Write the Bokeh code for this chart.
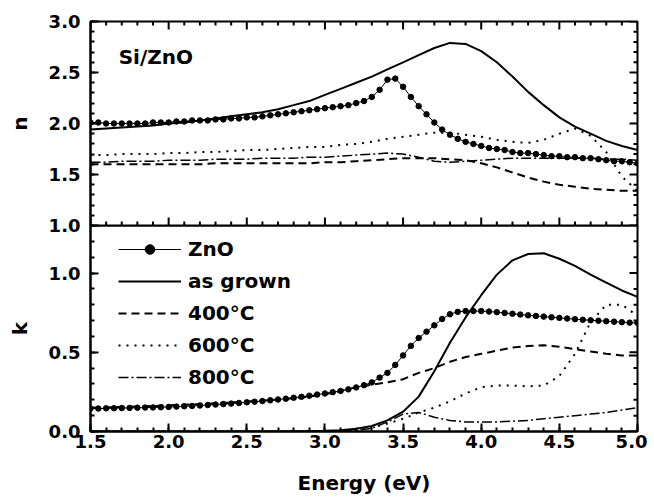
import math
from bokeh.plotting import figure
from bokeh.models import (Range1d, SingleIntervalTicker, PrintfTickFormatter,
                          Legend, LegendItem, Label)
from bokeh.layouts import column
from bokeh.embed import file_html
from bokeh.resources import INLINE

# ---------------- data ----------------
energy = [1.5, 1.6, 1.7, 1.8, 1.9, 2.0, 2.1, 2.2, 2.3, 2.4, 2.5, 2.6, 2.7, 2.8, 2.9,
          3.0, 3.1, 3.2, 3.3, 3.4, 3.5, 3.6, 3.7, 3.8, 3.9, 4.0, 4.1, 4.2, 4.3, 4.4,
          4.5, 4.6, 4.7, 4.8, 4.9, 5.0]

energy_zno = [1.50, 1.55, 1.60, 1.65, 1.70, 1.75, 1.80, 1.85, 1.90, 1.95,
              2.00, 2.05, 2.10, 2.15, 2.20, 2.25, 2.30, 2.35, 2.40, 2.45,
              2.50, 2.55, 2.60, 2.65, 2.70, 2.75, 2.80, 2.85, 2.90, 2.95,
              3.00, 3.05, 3.10, 3.15, 3.20, 3.25, 3.30, 3.35, 3.40, 3.45,
              3.50, 3.55, 3.60, 3.65, 3.70, 3.75, 3.80, 3.85, 3.90, 3.95,
              4.00, 4.05, 4.10, 4.15, 4.20, 4.25, 4.30, 4.35, 4.40, 4.45,
              4.50, 4.55, 4.60, 4.65, 4.70, 4.75, 4.80, 4.85, 4.90, 4.95, 5.00]

n_zno = [2.01, 2.01, 2.00, 2.00, 2.00, 2.00, 2.00, 2.00, 2.01, 2.01,
         2.01, 2.02, 2.02, 2.03, 2.03, 2.03, 2.04, 2.04, 2.05, 2.05,
         2.06, 2.06, 2.07, 2.08, 2.09, 2.10, 2.11, 2.12, 2.13, 2.14,
         2.15, 2.16, 2.17, 2.18, 2.20, 2.22, 2.26, 2.33, 2.43, 2.44,
         2.36, 2.26, 2.17, 2.09, 2.01, 1.94, 1.89, 1.85, 1.82, 1.80,
         1.78, 1.76, 1.75, 1.74, 1.72, 1.71, 1.71, 1.70, 1.69, 1.68,
         1.68, 1.67, 1.67, 1.66, 1.66, 1.65, 1.64, 1.63, 1.63, 1.62, 1.61]

k_zno = [0.145, 0.145, 0.146, 0.147, 0.148, 0.149, 0.150, 0.151, 0.152, 0.153,
         0.155, 0.157, 0.159, 0.161, 0.164, 0.167, 0.170, 0.173, 0.176, 0.180,
         0.184, 0.188, 0.192, 0.197, 0.202, 0.207, 0.213, 0.219, 0.226, 0.233,
         0.240, 0.248, 0.256, 0.266, 0.278, 0.292, 0.31, 0.34, 0.37, 0.42,
         0.48, 0.54, 0.59, 0.63, 0.67, 0.71, 0.74, 0.755, 0.76, 0.76,
         0.76, 0.757, 0.753, 0.748, 0.743, 0.738, 0.733, 0.729, 0.725, 0.721,
         0.717, 0.713, 0.709, 0.705, 0.702, 0.699, 0.696, 0.693, 0.690, 0.687, 0.685]

n_grown = [1.94, 1.95, 1.96, 1.97, 1.98, 2.00, 2.01, 2.03, 2.05, 2.07, 2.09, 2.11, 2.14, 2.18, 2.22,
           2.28, 2.34, 2.40, 2.46, 2.53, 2.60, 2.67, 2.74, 2.79, 2.78, 2.71, 2.60, 2.46, 2.31, 2.18,
           2.06, 1.97, 1.90, 1.83, 1.78, 1.74]
n_400 = [1.60, 1.60, 1.60, 1.60, 1.60, 1.60, 1.60, 1.60, 1.61, 1.61, 1.61, 1.61, 1.61, 1.61, 1.61,
         1.62, 1.62, 1.63, 1.64, 1.65, 1.66, 1.66, 1.66, 1.65, 1.64, 1.61, 1.57, 1.52, 1.47, 1.43,
         1.40, 1.38, 1.36, 1.35, 1.34, 1.34]
n_600 = [1.69, 1.69, 1.70, 1.70, 1.70, 1.71, 1.71, 1.72, 1.72, 1.73, 1.74, 1.74, 1.75, 1.76, 1.77,
         1.77, 1.79, 1.80, 1.82, 1.85, 1.87, 1.89, 1.91, 1.91, 1.89, 1.87, 1.84, 1.82, 1.81, 1.84,
         1.90, 1.95, 1.88, 1.72, 1.48, 1.34]
n_800 = [1.62, 1.62, 1.63, 1.63, 1.63, 1.64, 1.64, 1.64, 1.65, 1.65, 1.65, 1.66, 1.66, 1.66, 1.67,
         1.67, 1.68, 1.69, 1.70, 1.71, 1.70, 1.67, 1.63, 1.62, 1.63, 1.64, 1.65, 1.66, 1.66, 1.66,
         1.66, 1.66, 1.66, 1.65, 1.65, 1.64]

k_grown = [0.0, 0.0, 0.0, 0.0, 0.0, 0.0, 0.0, 0.0, 0.0, 0.0, 0.0, 0.0, 0.0, 0.001, 0.002,
           0.004, 0.008, 0.017, 0.035, 0.07, 0.125, 0.22, 0.38, 0.56, 0.72, 0.86, 0.99, 1.08, 1.12, 1.125,
           1.09, 1.045, 0.99, 0.94, 0.89, 0.85]
k_400 = [0.150, 0.152, 0.155, 0.158, 0.161, 0.165, 0.169, 0.173, 0.178, 0.183, 0.189, 0.195, 0.202, 0.210, 0.220,
         0.235, 0.255, 0.28, 0.295, 0.31, 0.33, 0.37, 0.40, 0.44, 0.47, 0.49, 0.51, 0.53, 0.54, 0.545,
         0.535, 0.52, 0.505, 0.49, 0.48, 0.48]
k_600 = [0.0, 0.0, 0.0, 0.0, 0.0, 0.0, 0.0, 0.0, 0.0, 0.0, 0.0, 0.0, 0.0, 0.0, 0.0,
         0.0, 0.003, 0.01, 0.025, 0.05, 0.08, 0.12, 0.15, 0.19, 0.24, 0.28, 0.29, 0.29, 0.285, 0.29,
         0.35, 0.49, 0.69, 0.80, 0.80, 0.73]
k_800 = [0.0, 0.0, 0.0, 0.0, 0.0, 0.0, 0.0, 0.0, 0.0, 0.0, 0.0, 0.0, 0.0, 0.0, 0.0,
         0.0, 0.0, 0.005, 0.02, 0.06, 0.11, 0.12, 0.09, 0.07, 0.06, 0.06, 0.06, 0.065, 0.07, 0.08,
         0.09, 0.10, 0.11, 0.12, 0.135, 0.15]

legend_labels = ["ZnO", "as grown", "400\u00b0C", "600\u00b0C", "800\u00b0C"]

# tick positions for the frame edges without labels
x_major = [1.5, 2.0, 2.5, 3.0, 3.5, 4.0, 4.5, 5.0]
x_minor = [1.6, 1.7, 1.8, 1.9, 2.1, 2.2, 2.3, 2.4, 2.6, 2.7, 2.8, 2.9,
           3.1, 3.2, 3.3, 3.4, 3.6, 3.7, 3.8, 3.9, 4.1, 4.2, 4.3, 4.4,
           4.6, 4.7, 4.8, 4.9]
n_major = [1.0, 1.5, 2.0, 2.5, 3.0]
n_minor = [1.1, 1.2, 1.3, 1.4, 1.6, 1.7, 1.8, 1.9, 2.1, 2.2, 2.3, 2.4, 2.6, 2.7, 2.8, 2.9]
k_major = [0.0, 0.5, 1.0]
k_minor = [0.1, 0.2, 0.3, 0.4, 0.6, 0.7, 0.8, 0.9, 1.1, 1.2]

# ---------------- styling ----------------
FONT = "DejaVu Sans"
DASH_400 = "8 5"
DASH_600 = "2 6"
DASH_800 = "10 3 2 3"
MAJ = 8
MIN = 4


def style_axis(ax, label_text, standoff_label, standoff_axis):
    ax.ticker = SingleIntervalTicker(interval=0.5, num_minor_ticks=5)
    ax.formatter = PrintfTickFormatter(format="%.1f")
    ax.axis_line_width = 2
    ax.axis_line_color = "black"
    ax.major_tick_in = MAJ
    ax.major_tick_out = 0
    ax.minor_tick_in = MIN
    ax.minor_tick_out = 0
    ax.major_tick_line_width = 2
    ax.minor_tick_line_width = 2
    ax.major_tick_line_color = "black"
    ax.minor_tick_line_color = "black"
    ax.major_label_text_font = FONT
    ax.major_label_text_font_style = "bold"
    ax.major_label_text_font_size = "18px"
    ax.major_label_text_color = "black"
    ax.major_label_standoff = standoff_label
    ax.axis_label = label_text
    ax.axis_label_text_font = FONT
    ax.axis_label_text_font_style = "bold"
    ax.axis_label_text_font_size = "20px"
    ax.axis_label_text_color = "black"
    ax.axis_label_standoff = standoff_axis


def ticks_x(p, xs, y, length, down):
    # short rays (screen-length) starting on a horizontal frame edge, pointing into the frame
    p.ray(x=xs, y=[y] * len(xs), length=length, length_units="screen",
          angle=(-math.pi / 2 if down else math.pi / 2), line_color="black", line_width=2)


def ticks_y(p, ys, x, length):
    # short rays starting on the right frame edge, pointing left into the frame
    p.ray(x=[x] * len(ys), y=ys, length=length, length_units="screen",
          angle=math.pi, line_color="black", line_width=2)


# ---------------- top panel: n ----------------
p1 = figure(width=647, height=237, x_range=Range1d(1.5, 5.0), y_range=Range1d(1.0, 3.0),
            output_backend="svg", toolbar_location=None, x_axis_location=None,
            min_border_left=90, min_border_right=10, min_border_top=21, min_border_bottom=12)
p1.grid.visible = False
p1.outline_line_color = "black"
p1.outline_line_width = 2
p1.background_fill_color = None
p1.border_fill_color = "white"
style_axis(p1.yaxis[0], "n", 10, 14)

ticks_x(p1, x_major, 3.0, MAJ, True)
ticks_x(p1, x_minor, 3.0, MIN, True)
ticks_x(p1, x_major, 1.0, MAJ, False)
ticks_x(p1, x_minor, 1.0, MIN, False)
ticks_y(p1, n_major, 5.0, MAJ)
ticks_y(p1, n_minor, 5.0, MIN)

p1.line(energy, n_grown, line_color="black", line_width=2)
p1.line(energy, n_400, line_color="black", line_width=2, line_dash=DASH_400)
p1.line(energy, n_600, line_color="black", line_width=2, line_dash=DASH_600)
p1.line(energy, n_800, line_color="black", line_width=1.5, line_dash=DASH_800)
p1.line(energy_zno, n_zno, line_color="black", line_width=1)
p1.scatter(energy_zno, n_zno, marker="circle", size=5.5, fill_color="black", line_color="black")

p1.add_layout(Label(x=1.68, y=2.65, text="Si/ZnO", text_baseline="middle",
                    text_font=FONT, text_font_style="bold", text_font_size="20px",
                    text_color="black"))

# ---------------- bottom panel: k ----------------
p2 = figure(width=647, height=272, x_range=Range1d(1.5, 5.0), y_range=Range1d(0.0, 1.3),
            output_backend="svg", toolbar_location=None,
            min_border_left=90, min_border_right=10, min_border_top=0, min_border_bottom=66)
p2.margin = (-12, 0, 0, 0)
p2.grid.visible = False
p2.outline_line_color = "black"
p2.outline_line_width = 2
p2.background_fill_color = None
p2.border_fill_color = None
style_axis(p2.xaxis[0], "Energy (eV)", 3, 20)
style_axis(p2.yaxis[0], "k", 10, 14)

ticks_y(p2, k_major, 5.0, MAJ)
ticks_y(p2, k_minor, 5.0, MIN)

r_zl = p2.line(energy_zno, k_zno, line_color="black", line_width=1)
r_zs = p2.scatter(energy_zno, k_zno, marker="circle", size=5.5, fill_color="black", line_color="black")
r_g = p2.line(energy, k_grown, line_color="black", line_width=2)
r_4 = p2.line(energy, k_400, line_color="black", line_width=2, line_dash=DASH_400)
r_6 = p2.line(energy, k_600, line_color="black", line_width=2, line_dash=DASH_600)
r_8 = p2.line(energy, k_800, line_color="black", line_width=1.5, line_dash=DASH_800)

legend = Legend(items=[LegendItem(label=legend_labels[0], renderers=[r_zl, r_zs]),
                       LegendItem(label=legend_labels[1], renderers=[r_g]),
                       LegendItem(label=legend_labels[2], renderers=[r_4]),
                       LegendItem(label=legend_labels[3], renderers=[r_6]),
                       LegendItem(label=legend_labels[4], renderers=[r_8])],
                location=(28, 42), border_line_color=None, background_fill_alpha=0,
                padding=0, margin=0, spacing=8, glyph_width=63, glyph_height=24,
                label_height=24, label_standoff=7,
                label_text_font=FONT, label_text_font_style="bold",
                label_text_font_size="20px", label_text_color="black")
p2.add_layout(legend)

layout = column(p1, p2, spacing=0)
open("out.html", "w").write(file_html(layout, INLINE))
